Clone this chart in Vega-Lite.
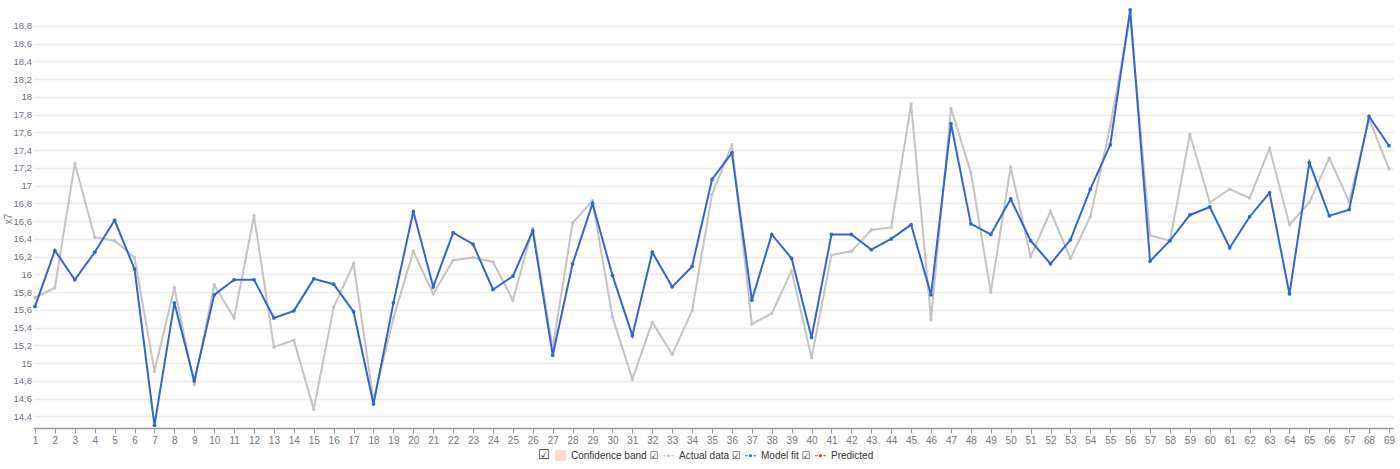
{
  "$schema": "https://vega.github.io/schema/vega-lite/v6.json",
  "width": 1360,
  "height": 419,
  "autosize": {"type": "none"},
  "padding": {"left": 33, "top": 9, "right": 7, "bottom": 41},
  "background": "#ffffff",
  "config": {"view": {"stroke": null}, "font": "Liberation Sans"},
  "datasets": {
    "obs": [
      {"t": 1, "actual": 15.74, "fit": 15.64},
      {"t": 2, "actual": 15.85, "fit": 16.27},
      {"t": 3, "actual": 17.25, "fit": 15.94},
      {"t": 4, "actual": 16.42, "fit": 16.25},
      {"t": 5, "actual": 16.38, "fit": 16.61},
      {"t": 6, "actual": 16.19, "fit": 16.06},
      {"t": 7, "actual": 14.91, "fit": 14.30},
      {"t": 8, "actual": 15.85, "fit": 15.68},
      {"t": 9, "actual": 14.76, "fit": 14.80},
      {"t": 10, "actual": 15.88, "fit": 15.77},
      {"t": 11, "actual": 15.51, "fit": 15.94},
      {"t": 12, "actual": 16.66, "fit": 15.94},
      {"t": 13, "actual": 15.18, "fit": 15.51},
      {"t": 14, "actual": 15.26, "fit": 15.59},
      {"t": 15, "actual": 14.48, "fit": 15.95},
      {"t": 16, "actual": 15.63, "fit": 15.89},
      {"t": 17, "actual": 16.12, "fit": 15.58},
      {"t": 18, "actual": 14.58, "fit": 14.54},
      {"t": 19, "actual": 15.51, "fit": 15.68},
      {"t": 20, "actual": 16.26, "fit": 16.71},
      {"t": 21, "actual": 15.78, "fit": 15.86},
      {"t": 22, "actual": 16.16, "fit": 16.47},
      {"t": 23, "actual": 16.19, "fit": 16.34},
      {"t": 24, "actual": 16.14, "fit": 15.83},
      {"t": 25, "actual": 15.71, "fit": 15.98},
      {"t": 26, "actual": 16.52, "fit": 16.49},
      {"t": 27, "actual": 15.17, "fit": 15.09},
      {"t": 28, "actual": 16.58, "fit": 16.12},
      {"t": 29, "actual": 16.83, "fit": 16.80},
      {"t": 30, "actual": 15.52, "fit": 15.99},
      {"t": 31, "actual": 14.82, "fit": 15.31},
      {"t": 32, "actual": 15.46, "fit": 16.25},
      {"t": 33, "actual": 15.10, "fit": 15.86},
      {"t": 34, "actual": 15.59, "fit": 16.09},
      {"t": 35, "actual": 16.90, "fit": 17.07},
      {"t": 36, "actual": 17.46, "fit": 17.37},
      {"t": 37, "actual": 15.44, "fit": 15.71},
      {"t": 38, "actual": 15.56, "fit": 16.45},
      {"t": 39, "actual": 16.04, "fit": 16.18},
      {"t": 40, "actual": 15.06, "fit": 15.29},
      {"t": 41, "actual": 16.22, "fit": 16.45},
      {"t": 42, "actual": 16.26, "fit": 16.45},
      {"t": 43, "actual": 16.50, "fit": 16.28},
      {"t": 44, "actual": 16.53, "fit": 16.40},
      {"t": 45, "actual": 17.92, "fit": 16.56},
      {"t": 46, "actual": 15.49, "fit": 15.77},
      {"t": 47, "actual": 17.87, "fit": 17.70},
      {"t": 48, "actual": 17.15, "fit": 16.57},
      {"t": 49, "actual": 15.80, "fit": 16.45},
      {"t": 50, "actual": 17.21, "fit": 16.85},
      {"t": 51, "actual": 16.20, "fit": 16.38},
      {"t": 52, "actual": 16.71, "fit": 16.12},
      {"t": 53, "actual": 16.18, "fit": 16.39},
      {"t": 54, "actual": 16.65, "fit": 16.96},
      {"t": 55, "actual": 17.67, "fit": 17.46},
      {"t": 56, "actual": 18.90, "fit": 18.98},
      {"t": 57, "actual": 16.44, "fit": 16.15},
      {"t": 58, "actual": 16.38, "fit": 16.38},
      {"t": 59, "actual": 17.58, "fit": 16.67},
      {"t": 60, "actual": 16.81, "fit": 16.76},
      {"t": 61, "actual": 16.96, "fit": 16.30},
      {"t": 62, "actual": 16.86, "fit": 16.65},
      {"t": 63, "actual": 17.42, "fit": 16.92},
      {"t": 64, "actual": 16.56, "fit": 15.78},
      {"t": 65, "actual": 16.81, "fit": 17.26},
      {"t": 66, "actual": 17.31, "fit": 16.66},
      {"t": 67, "actual": 16.82, "fit": 16.73},
      {"t": 68, "actual": 17.75, "fit": 17.78},
      {"t": 69, "actual": 17.19, "fit": 17.45}
    ],
    "series": [
      {"series": "Confidence band"},
      {"series": "Actual data"},
      {"series": "Model fit"},
      {"series": "Predicted"}
    ]
  },
  "encoding": {
    "x": {
      "field": "t",
      "type": "quantitative",
      "scale": {"domain": [0.9, 69.2], "nice": false, "zero": false},
      "axis": {
        "title": null,
        "values": [1,2,3,4,5,6,7,8,9,10,11,12,13,14,15,16,17,18,19,20,21,22,23,24,25,26,27,28,29,30,31,32,33,34,35,36,37,38,39,40,41,42,43,44,45,46,47,48,49,50,51,52,53,54,55,56,57,58,59,60,61,62,63,64,65,66,67,68,69],
        "tickCount": 100,
        "format": "d",
        "grid": false,
        "labelAngle": 0,
        "labelColor": "#777777",
        "labelFontSize": 10,
        "labelPadding": 2,
        "labelFlush": false,
        "labelOverlap": false,
        "domainColor": "#999999",
        "domainWidth": 1.5,
        "tickColor": "#999999",
        "tickSize": 5
      }
    },
    "y": {
      "field": "actual",
      "type": "quantitative",
      "scale": {"domain": [14.27, 18.99], "nice": false, "zero": false},
      "axis": {
        "title": "x7",
        "titleColor": "#777777",
        "titleFontSize": 10,
        "titleFontWeight": "normal",
        "titleX": -25,
        "titleBaseline": "middle",
        "values": [14.4,14.6,14.8,15,15.2,15.4,15.6,15.8,16,16.2,16.4,16.6,16.8,17,17.2,17.4,17.6,17.8,18,18.2,18.4,18.6,18.8],
        "tickCount": 100,
        "labelOverlap": false,
        "labelExpr": "replace(format(datum.value, '.1~f'), '.', ',')",
        "labelColor": "#7d6b7b",
        "labelFontSize": 9.5,
        "labelPadding": 1.5,
        "domain": false,
        "ticks": false,
        "grid": true,
        "gridColor": "#ebebeb",
        "gridWidth": 1.5
      }
    }
  },
  "layer": [
    {
      "data": {"name": "obs"},
      "mark": {"type": "line", "color": "#c4c4c4", "strokeWidth": 2},
      "encoding": {}
    },
    {
      "data": {"name": "obs"},
      "mark": {"type": "point", "filled": true, "color": "#c4c4c4", "size": 12, "opacity": 1},
      "encoding": {}
    },
    {
      "data": {"name": "obs"},
      "mark": {"type": "line", "color": "#3366cc", "strokeWidth": 2},
      "encoding": {"y": {"field": "fit", "type": "quantitative"}}
    },
    {
      "data": {"name": "obs"},
      "mark": {"type": "point", "filled": true, "color": "#3366cc", "size": 14, "opacity": 1},
      "encoding": {"y": {"field": "fit", "type": "quantitative"}}
    },
    {
      "data": {"name": "series"},
      "transform": [{"filter": "false"}],
      "mark": {"type": "point", "filled": true, "opacity": 1},
      "encoding": {
        "x": {"value": 0},
        "y": {"value": 0},
        "color": {
          "field": "series",
          "type": "nominal",
          "scale": {
            "domain": ["Confidence band", "Actual data", "Model fit", "Predicted"],
            "range": ["#fddcd6", "#c4c4c4", "#3366cc", "#dc3912"]
          },
          "legend": {
            "title": "☑",
            "titleOrient": "left",
            "titleFont": "DejaVu Sans",
            "titleFontSize": 13,
            "titleFontWeight": "normal",
            "titleColor": "#333333",
            "titlePadding": 4,
            "orient": "none",
            "legendX": 505,
            "legendY": 440,
            "direction": "horizontal",
            "columns": 4,
            "columnPadding": 3,
            "symbolSize": 121,
            "labelOffset": 4,
            "labelFont": "Liberation Sans, DejaVu Sans",
            "labelFontSize": 10,
            "labelColor": "#333333",
            "labelLimit": 0,
            "labelExpr": "datum.label == 'Predicted' ? datum.label : datum.label + ' ☑'"
          }
        },
        "shape": {
          "field": "series",
          "type": "nominal",
          "scale": {
            "domain": ["Confidence band", "Actual data", "Model fit", "Predicted"],
            "range": [
              "square",
              "M-1,-0.1H-0.5V0.1H-1Z M0.5,-0.1H1V0.1H0.5Z M-0.28,0A0.28,0.28 0 1,0 0.28,0A0.28,0.28 0 1,0 -0.28,0Z",
              "M-1,-0.1H-0.5V0.1H-1Z M0.5,-0.1H1V0.1H0.5Z M-0.28,0A0.28,0.28 0 1,0 0.28,0A0.28,0.28 0 1,0 -0.28,0Z",
              "M-1,-0.1H-0.5V0.1H-1Z M0.5,-0.1H1V0.1H0.5Z M-0.28,0A0.28,0.28 0 1,0 0.28,0A0.28,0.28 0 1,0 -0.28,0Z"
            ]
          }
        }
      }
    }
  ]
}
